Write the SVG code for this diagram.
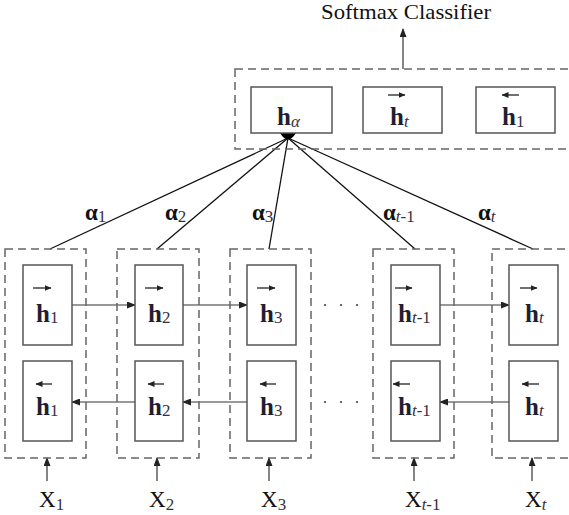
<svg xmlns="http://www.w3.org/2000/svg" width="569" height="515" viewBox="0 0 569 515">
<style>
  .dash { fill: none; stroke: #666; stroke-width: 1.5; stroke-dasharray: 8 5; }
  .cell { fill: #fff; stroke: #555; stroke-width: 1.5; }
  .conn { fill: none; stroke: #333; stroke-width: 1.2; }
  .att { fill: none; stroke: #111; stroke-width: 1.3; }
  .vec { fill: none; stroke: #222; stroke-width: 1.3; }
  text { font-family: "Liberation Serif", "DejaVu Serif", serif; }
  .h { font-weight: bold; font-size: 25px; fill: #1f1f33; }
  .sub { font-weight: normal; font-size: 17px; fill: #3a2e3a; }
  .it { font-style: italic; }
  .x { font-size: 23px; fill: #111; }
  .a { font-weight: bold; font-size: 23px; fill: #111; }
  .title { font-size: 22px; fill: #111; }
  .dots { fill: #444; }
</style>
<defs>
  <marker id="arr" markerUnits="userSpaceOnUse" markerWidth="9" markerHeight="7" refX="8" refY="3.5" orient="auto">
    <path d="M0,0 L9,3.5 L0,7 z" fill="#222"/>
  </marker>
  <marker id="varr" markerUnits="userSpaceOnUse" markerWidth="7" markerHeight="6" refX="6.5" refY="3" orient="auto">
    <path d="M0,0 L7,3 L0,6 z" fill="#222"/>
  </marker>
</defs>
<rect width="569" height="515" fill="#fff"/>

<text class="title" x="406" y="19" text-anchor="middle" textLength="170" lengthAdjust="spacingAndGlyphs">Softmax Classifier</text>

<g id="connectors">
  <line class="conn" x1="403" y1="69" x2="403" y2="29" marker-end="url(#arr)"/>
  <line class="att" x1="288" y1="138" x2="50" y2="249"/>
  <line class="att" x1="288" y1="138" x2="157" y2="249"/>
  <line class="att" x1="288" y1="138" x2="269" y2="249"/>
  <line class="att" x1="288" y1="138" x2="415" y2="249"/>
  <line class="att" x1="288" y1="138" x2="533" y2="249"/>
  <path d="M280,133 Q288,146 296,133 Z" fill="#000"/>
  <line class="conn" x1="72" y1="305" x2="135" y2="305" marker-end="url(#arr)"/>
  <line class="conn" x1="183" y1="305" x2="247" y2="305" marker-end="url(#arr)"/>
  <line class="conn" x1="440" y1="305" x2="509" y2="305" marker-end="url(#arr)"/>
  <line class="conn" x1="135" y1="402" x2="72" y2="402" marker-end="url(#arr)"/>
  <line class="conn" x1="247" y1="402" x2="183" y2="402" marker-end="url(#arr)"/>
  <line class="conn" x1="509" y1="402" x2="440" y2="402" marker-end="url(#arr)"/>
  <line class="conn" x1="47" y1="481" x2="47" y2="458" marker-end="url(#arr)"/>
  <line class="conn" x1="157" y1="481" x2="157" y2="458" marker-end="url(#arr)"/>
  <line class="conn" x1="269" y1="481" x2="269" y2="458" marker-end="url(#arr)"/>
  <line class="conn" x1="414" y1="481" x2="414" y2="458" marker-end="url(#arr)"/>
  <line class="conn" x1="532" y1="481" x2="532" y2="458" marker-end="url(#arr)"/>
</g>

<g id="output">
  <rect class="dash" x="235" y="69" width="340" height="80"/>
  <g id="h_alpha">
    <rect class="cell" x="251" y="87" width="81" height="46"/>
    <text class="h" x="277" y="125">h<tspan class="sub it" font-size="18" dy="2">α</tspan></text>
  </g>
  <g id="h_t_fwd_out">
    <rect class="cell" x="363" y="87" width="79" height="46"/>
    <line class="vec" x1="388" y1="95" x2="405" y2="95" marker-end="url(#varr)"/>
    <text class="h" x="390" y="125">h<tspan class="sub it" dy="2">t</tspan></text>
  </g>
  <g id="h_1_bwd_out">
    <rect class="cell" x="476" y="87" width="79" height="46"/>
    <line class="vec" x1="519" y1="95" x2="502" y2="95" marker-end="url(#varr)"/>
    <text class="h" x="502" y="125">h<tspan class="sub" dy="2">1</tspan></text>
  </g>
</g>

<g id="labels">
  <text class="a" x="85" y="220">α<tspan class="sub" dy="2">1</tspan></text>
  <text class="a" x="165" y="220">α<tspan class="sub" dy="2">2</tspan></text>
  <text class="a" x="252" y="220">α<tspan class="sub" dy="2">3</tspan></text>
  <text class="a" x="383" y="220">α<tspan class="sub it" dy="2">t</tspan><tspan class="sub">-1</tspan></text>
  <text class="a" x="478" y="220">α<tspan class="sub it" dy="2">t</tspan></text>
</g>

<g id="col1">
  <rect class="dash" x="5" y="249" width="81" height="209"/>
  <g id="f1">
    <rect class="cell" x="23" y="265" width="49" height="80"/>
    <line class="vec" x1="33" y1="288" x2="51" y2="288" marker-end="url(#varr)"/>
    <text class="h" x="36" y="322">h<tspan class="sub" dy="1">1</tspan></text>
  </g>
  <g id="b1">
    <rect class="cell" x="23" y="361" width="49" height="80"/>
    <line class="vec" x1="52" y1="384" x2="36" y2="384" marker-end="url(#varr)"/>
    <text class="h" x="36" y="415">h<tspan class="sub" dy="1">1</tspan></text>
  </g>
</g>

<g id="col2">
  <rect class="dash" x="117" y="249" width="82" height="209"/>
  <g id="f2">
    <rect class="cell" x="135" y="265" width="48" height="80"/>
    <line class="vec" x1="145" y1="288" x2="163" y2="288" marker-end="url(#varr)"/>
    <text class="h" x="148" y="322">h<tspan class="sub" dy="1">2</tspan></text>
  </g>
  <g id="b2">
    <rect class="cell" x="135" y="361" width="48" height="80"/>
    <line class="vec" x1="164" y1="384" x2="148" y2="384" marker-end="url(#varr)"/>
    <text class="h" x="148" y="415">h<tspan class="sub" dy="1">2</tspan></text>
  </g>
</g>

<g id="col3">
  <rect class="dash" x="230" y="249" width="81" height="209"/>
  <g id="f3">
    <rect class="cell" x="247" y="265" width="49" height="80"/>
    <line class="vec" x1="257" y1="288" x2="275" y2="288" marker-end="url(#varr)"/>
    <text class="h" x="260" y="322">h<tspan class="sub" dy="1">3</tspan></text>
  </g>
  <g id="b3">
    <rect class="cell" x="247" y="361" width="49" height="80"/>
    <line class="vec" x1="276" y1="384" x2="260" y2="384" marker-end="url(#varr)"/>
    <text class="h" x="260" y="415">h<tspan class="sub" dy="1">3</tspan></text>
  </g>
</g>

<g id="ellipsis">
  <circle class="dots" cx="325" cy="305" r="1.1"/>
  <circle class="dots" cx="341" cy="305" r="1.1"/>
  <circle class="dots" cx="357" cy="305" r="1.1"/>
  <circle class="dots" cx="325" cy="402" r="1.1"/>
  <circle class="dots" cx="341" cy="402" r="1.1"/>
  <circle class="dots" cx="357" cy="402" r="1.1"/>
</g>

<g id="col4">
  <rect class="dash" x="373" y="249" width="81" height="209"/>
  <g id="f4">
    <rect class="cell" x="391" y="265" width="49" height="80"/>
    <line class="vec" x1="395" y1="288" x2="412" y2="288" marker-end="url(#varr)"/>
    <text class="h" x="398" y="322" font-size="23">h<tspan class="sub it" font-size="16" dy="1">t</tspan><tspan class="sub" font-size="16">-1</tspan></text>
  </g>
  <g id="b4">
    <rect class="cell" x="391" y="361" width="49" height="80"/>
    <line class="vec" x1="410" y1="384" x2="393" y2="384" marker-end="url(#varr)"/>
    <text class="h" x="398" y="415" font-size="23">h<tspan class="sub it" font-size="16" dy="1">t</tspan><tspan class="sub" font-size="16">-1</tspan></text>
  </g>
</g>

<g id="col5">
  <rect class="dash" x="492" y="249" width="83" height="209"/>
  <g id="f5">
    <rect class="cell" x="509" y="265" width="49" height="80"/>
    <line class="vec" x1="520" y1="288" x2="537" y2="288" marker-end="url(#varr)"/>
    <text class="h" x="525" y="322">h<tspan class="sub it" dy="1">t</tspan></text>
  </g>
  <g id="b5">
    <rect class="cell" x="509" y="361" width="49" height="80"/>
    <line class="vec" x1="539" y1="384" x2="522" y2="384" marker-end="url(#varr)"/>
    <text class="h" x="525" y="415">h<tspan class="sub it" dy="1">t</tspan></text>
  </g>
</g>

<g id="inputs">
  <text class="x" x="39" y="507">X<tspan class="sub" font-size="18" dy="3">1</tspan></text>
  <text class="x" x="149" y="507">X<tspan class="sub" font-size="18" dy="3">2</tspan></text>
  <text class="x" x="261" y="507">X<tspan class="sub" font-size="18" dy="3">3</tspan></text>
  <text class="x" x="405" y="507">X<tspan class="sub it" font-size="18" dy="3">t</tspan><tspan class="sub" font-size="18">-1</tspan></text>
  <text class="x" x="525" y="507">X<tspan class="sub it" font-size="18" dy="3">t</tspan></text>
</g>
</svg>
